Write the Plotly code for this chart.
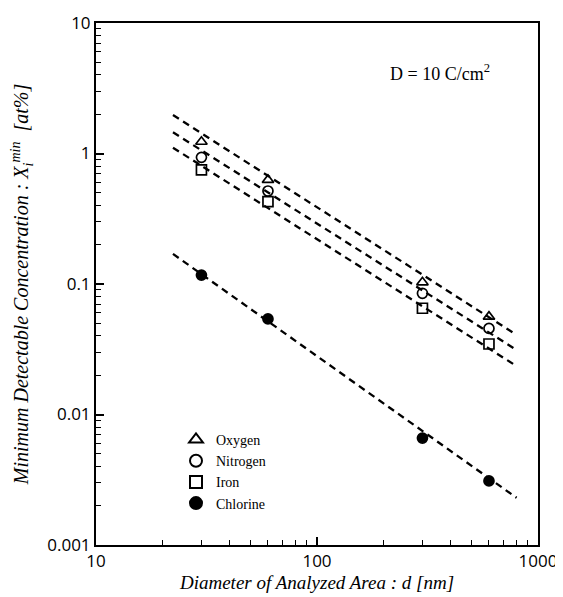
import plotly.graph_objects as go

# ---- data ----
diameter_nm = [30, 60, 300, 600]
oxygen = [1.23, 0.627, 0.103, 0.0562]
nitrogen = [0.935, 0.516, 0.0849, 0.0457]
iron = [0.748, 0.428, 0.0652, 0.0347]
chlorine = [0.117, 0.054, 0.0066, 0.0031]

fit_x = [22.3, 800]
oxygen_fit = [1.97, 0.0407]
nitrogen_fit = [1.454, 0.0312]
iron_fit = [1.108, 0.0235]
chlorine_fit = [0.170, 0.0023]

x_tickvals = [10, 100, 1000]
x_ticktext = ["10", "100", "1000"]
y_tickvals = [0.001, 0.01, 0.1, 1, 10]
y_ticktext = ["0.001", "0.01", "0.1", "1", "10"]

fig = go.Figure()

dash_line = dict(color="black", width=2.3, dash="7px,5px")
for fy in [oxygen_fit, nitrogen_fit, iron_fit, chlorine_fit]:
    fig.add_trace(go.Scatter(x=fit_x, y=fy, mode="lines", line=dash_line,
                             showlegend=False, hoverinfo="skip"))

series = [
    ("Oxygen", oxygen, "triangle-up-open"),
    ("Nitrogen", nitrogen, "circle-open"),
    ("Iron", iron, "square-open"),
    ("Chlorine", chlorine, "circle"),
]
for name, vals, sym in series:
    fig.add_trace(go.Scatter(
        x=diameter_nm, y=vals, mode="markers", name=name,
        marker=dict(symbol=sym, size=10, color="black",
                    line=dict(color="black", width=1.7)),
    ))

fig.add_annotation(
    x=0.778, y=0.906, xref="paper", yref="paper", xanchor="center", yanchor="middle",
    text="D = 10 C/cm<sup>2</sup>", showarrow=False,
    font=dict(family="Liberation Serif", size=18, color="black"),
)


def minor_vals(lo_exp, hi_exp):
    return [m * 10 ** e for e in range(lo_exp, hi_exp) for m in range(2, 10)]


def axis_common(minor_ticks):
    return dict(
        type="log", showgrid=False, zeroline=False, showline=True, linecolor="black",
        linewidth=2, mirror=True, ticks="inside", ticklen=8, tickwidth=1.6,
        tickcolor="black", automargin=False,
        tickfont=dict(family="Open Sans", size=17, color="black"),
        minor=dict(ticks="inside", ticklen=5, tickwidth=1.3, tickcolor="black",
                   showgrid=False, tickmode="array", tickvals=minor_ticks),
    )


fig.update_xaxes(
    **axis_common(minor_vals(1, 3)), range=[1, 3], tickvals=x_tickvals, ticktext=x_ticktext,
    title=dict(text="Diameter of Analyzed Area : d [nm]", standoff=3,
               font=dict(family="Liberation Serif", size=19, color="black", style="italic")),
)
fig.update_yaxes(
    **axis_common(minor_vals(-3, 1)), range=[-3, 1], tickvals=y_tickvals, ticktext=y_ticktext,
    title=dict(text="Minimum Detectable Concentration : X<sub>i</sub><sup>min</sup>  [at%]",
               standoff=17,
               font=dict(family="Liberation Serif", size=20, color="black", style="italic")),
)

fig.update_layout(
    width=555, height=589,
    margin=dict(l=88, r=25, t=15, b=52),
    plot_bgcolor="white", paper_bgcolor="white",
    legend=dict(x=0.181, y=0.232, xanchor="left", yanchor="top",
                bgcolor="rgba(0,0,0,0)", tracegroupgap=0, itemsizing="constant",
                font=dict(family="Liberation Serif", size=14, color="black")),
)

fig.write_html("out.html")
